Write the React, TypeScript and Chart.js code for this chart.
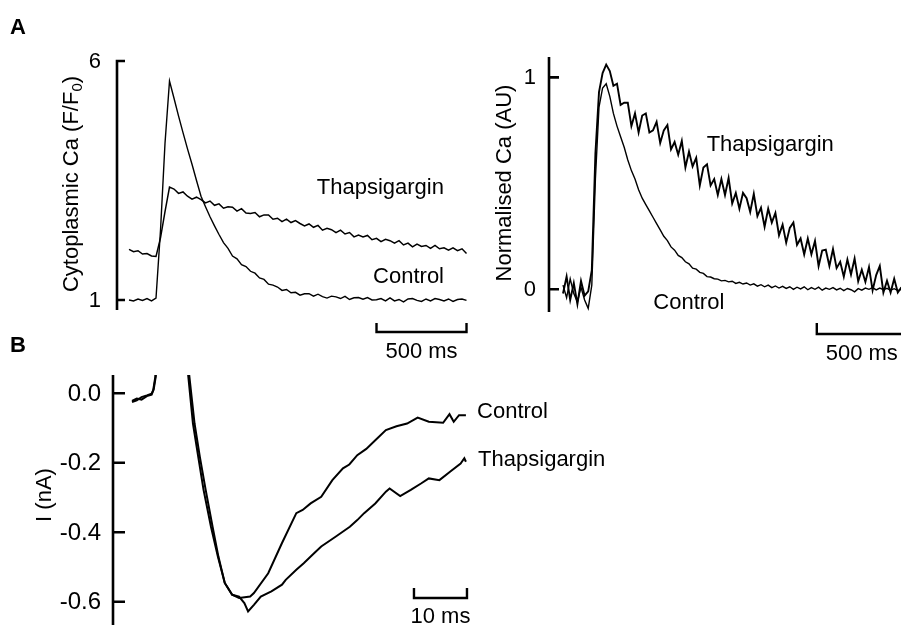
import React, { useEffect, useRef } from "react";
import { Chart, registerables } from "chart.js";

Chart.register(...registerables);

const FONT_FAMILY = '"Liberation Sans", Arial, Helvetica, sans-serif';

// ---------- Panel A (left): cytoplasmic Ca, F/F0 ----------
const A_TIME_MS = [
  0, 25, 50, 75, 100, 125, 150, 175, 200, 225, 250, 275, 300, 325, 350, 375, 400, 425, 450, 475,
  500, 525, 550, 575, 600, 625, 650, 675, 700, 725, 750, 775, 800, 825, 850, 875, 900, 925, 950, 975,
  1000, 1025, 1050, 1075, 1100, 1125, 1150, 1175, 1200, 1225, 1250, 1275, 1300, 1325, 1350, 1375,
  1400, 1425, 1450, 1475, 1500, 1525, 1550, 1575, 1600, 1625, 1650, 1675, 1700, 1725, 1750, 1775,
  1800, 1825, 1850, 1875,
];
const A_CONTROL_FF0 = [
  1.0, 0.98, 1.02, 0.99, 1.03, 0.98, 1.04, 2.46, 4.28, 5.58, 5.22, 4.85, 4.5, 4.16, 3.84, 3.5,
  3.17, 2.95, 2.74, 2.55, 2.37, 2.2, 2.08, 1.92, 1.86, 1.74, 1.7, 1.6, 1.56, 1.46, 1.43, 1.33,
  1.31, 1.27, 1.2, 1.22, 1.15, 1.16, 1.1, 1.13, 1.13, 1.08, 1.12, 1.07, 1.04, 1.08, 1.065, 1.03,
  1.075, 1.01, 1.045, 1.05, 1.015, 1.05, 1.0, 1.005, 1.03, 0.98, 1.045, 0.98, 1.01, 0.96, 1.02,
  1.03, 0.99, 0.97, 1.02, 0.98, 1.03, 1.01, 0.98, 1.02, 0.97, 1.01, 1.02, 0.99,
];
const A_THAPS_FF0 = [
  2.06, 2.01, 2.03, 1.96, 1.97, 1.92, 1.91, 2.3, 2.85, 3.36, 3.32, 3.23, 3.26, 3.17, 3.11, 3.15,
  3.1, 3.03, 3.07, 2.98, 3.01, 2.92, 2.95, 2.94, 2.86, 2.91, 2.82, 2.81, 2.83, 2.74, 2.78, 2.78,
  2.69, 2.71, 2.64, 2.69, 2.62, 2.66, 2.6, 2.55, 2.59, 2.52, 2.56, 2.46, 2.5, 2.47, 2.41, 2.46,
  2.38, 2.41, 2.32, 2.36, 2.32, 2.35, 2.26, 2.29, 2.22, 2.27, 2.24, 2.19, 2.24, 2.15, 2.19, 2.11,
  2.17, 2.12, 2.14, 2.08, 2.14, 2.07, 2.09, 2.04, 2.09, 2.03, 2.07, 1.97,
];
const A_Y_TICKS = [1, 6];
const A_Y_TICK_LABELS = ["1", "6"];

// ---------- Panel A (right): normalised Ca ----------
const N_TIME_MS = [
  0, 20, 40, 60, 80, 100, 120, 140, 160, 180, 200, 220, 240, 260, 280, 300, 320, 340, 360, 380,
  400, 420, 440, 460, 480, 500, 520, 540, 560, 580, 600, 620, 640, 660, 680, 700, 720, 740, 760, 780,
  800, 820, 840, 860, 880, 900, 920, 940, 960, 980, 1000, 1020, 1040, 1060, 1080, 1100, 1120, 1140,
  1160, 1180, 1200, 1220, 1240, 1260, 1280, 1300, 1320, 1340, 1360, 1380, 1400, 1420, 1440, 1460,
  1480, 1500, 1520, 1540, 1560, 1580, 1600, 1620, 1640, 1660, 1680, 1700, 1720, 1740, 1760, 1780,
  1800, 1820, 1840, 1860, 1880,
];
const N_CONTROL = [
  0.02, -0.04, 0.05, -0.02, -0.06, 0.01, -0.05, -0.09, 0.02, 0.52, 0.86, 0.95, 0.97, 0.91, 0.83,
  0.77, 0.72, 0.67, 0.61, 0.56, 0.52, 0.47, 0.43, 0.4, 0.37, 0.34, 0.31, 0.28, 0.25, 0.23, 0.2,
  0.185, 0.16, 0.15, 0.13, 0.12, 0.1, 0.095, 0.08, 0.075, 0.06, 0.058, 0.05, 0.048, 0.04, 0.042,
  0.035, 0.038, 0.028, 0.033, 0.025, 0.03, 0.02, 0.026, 0.015, 0.022, 0.012, 0.02, 0.008, 0.016,
  0.006, 0.014, 0.004, 0.012, 0.0, 0.01, 0.002, 0.012, -0.002, 0.008, 0.0, 0.01, -0.004, 0.006,
  0.0, 0.008, -0.003, 0.005, -0.006, 0.004, -0.002, -0.012, 0.003, -0.004, 0.006, 0.0, 0.008,
  -0.003, 0.006, -0.002, 0.005, -0.004, 0.003, -0.006, 0.0,
];
const N_THAPS = [
  -0.02, 0.06, -0.05, 0.03, -0.07, 0.04, -0.03, -0.01, 0.09, 0.64, 0.93, 1.02, 1.06, 1.03, 0.96,
  0.97, 0.87, 0.88, 0.88, 0.77, 0.83, 0.74, 0.82, 0.83, 0.74, 0.75, 0.79, 0.69, 0.75, 0.775, 0.66,
  0.695, 0.635, 0.7, 0.575, 0.65, 0.58, 0.62, 0.49, 0.575, 0.59, 0.49, 0.52, 0.445, 0.52, 0.445,
  0.525, 0.405, 0.455, 0.38, 0.455, 0.43, 0.365, 0.45, 0.345, 0.385, 0.295, 0.38, 0.315, 0.36,
  0.255, 0.305, 0.22, 0.29, 0.315, 0.21, 0.24, 0.165, 0.24, 0.165, 0.228, 0.11, 0.183, 0.187,
  0.11, 0.19, 0.1, 0.13, 0.06, 0.14, 0.07, 0.145, 0.038, 0.092, 0.035, 0.105, -0.005, 0.067, 0.11,
  -0.015, 0.04, -0.015, 0.05, -0.015, 0.01,
];
const N_Y_TICKS = [0, 1];
const N_Y_TICK_LABELS = ["0", "1"];

// ---------- Panel B: current, nA ----------
const B_CONTROL_TIME_MS = [
  0, 0.9, 1.8, 2.8, 3.7, 4.0, 4.4, 4.8, 9.8, 10.3, 10.6, 11.5, 12.5, 13.5, 14.9, 16.2, 17.5, 18.9,
  20.2, 22.3, 23.0, 25.7, 28.3, 31.0, 32.2, 33.7, 35.7, 37.8, 39.8, 41.0, 42.5, 44.2, 45.9, 47.9,
  49.9, 51.9, 53.9, 56.0, 58.7, 59.9, 60.7, 61.7, 63.0,
];
const B_CONTROL_NA = [
  -0.025, -0.02, -0.011, -0.006, -0.001, 0.009, 0.047, 0.4, 0.4, 0.2, 0.052, -0.087, -0.183,
  -0.278, -0.384, -0.47, -0.546, -0.58, -0.589, -0.585, -0.575, -0.518, -0.431, -0.345, -0.336,
  -0.317, -0.298, -0.25, -0.216, -0.205, -0.178, -0.16, -0.135, -0.106, -0.095, -0.087, -0.07,
  -0.082, -0.085, -0.06, -0.082, -0.063, -0.063,
];
const B_THAPS_TIME_MS = [
  0, 0.9, 1.8, 2.8, 3.7, 4.1, 4.5, 4.9, 9.9, 10.5, 10.8, 11.8, 12.8, 13.9, 15.2, 16.3, 17.5, 18.9,
  20.2, 21.2, 21.9, 23.0, 24.3, 26.3, 28.3, 29.0, 31.0, 32.4, 34.4, 35.7, 38.4, 41.1, 42.5, 43.8,
  45.9, 47.9, 48.6, 50.6, 52.6, 54.6, 56.0, 58.0, 60.0, 62.0, 62.7, 63.0,
];
const B_THAPS_NA = [
  -0.022, -0.015, -0.018, -0.008, -0.004, 0.012, 0.05, 0.4, 0.4, 0.2, 0.052, -0.087, -0.183,
  -0.278, -0.384, -0.47, -0.546, -0.58, -0.585, -0.604, -0.628, -0.609, -0.585, -0.57, -0.551,
  -0.537, -0.508, -0.489, -0.46, -0.441, -0.413, -0.384, -0.365, -0.345, -0.317, -0.283, -0.274,
  -0.296, -0.278, -0.259, -0.245, -0.25, -0.226, -0.202, -0.187, -0.197,
];
const B_Y_TICKS = [0, -0.2, -0.4, -0.6];
const B_Y_TICK_LABELS = ["0.0", "-0.2", "-0.4", "-0.6"];

type TitlePart = { t: string; sub?: boolean };
type Deco = {
  ticks: number[];
  tickLabels: string[];
  tickFont: number;
  tickLen: number;
  tickGap: number;
  title: { parts: TitlePart[]; cx: number; cy: number };
  labels: { text: string; x: number; y: number }[];
  bar: { from: number; to: number; y: number; cap: number; text: string; textY: number };
  letter?: { text: string; x: number; y: number };
};

function decoPlugin(d: Deco) {
  return {
    id: "deco",
    afterDatasetsDraw(chart: any) {
      const ctx = chart.ctx as CanvasRenderingContext2D;
      const area = chart.chartArea;
      const xs = chart.scales.x;
      const ys = chart.scales.y;
      ctx.save();
      ctx.strokeStyle = "#000";
      ctx.fillStyle = "#000";
      ctx.lineWidth = 2.6;
      ctx.lineCap = "butt";
      ctx.beginPath();
      ctx.moveTo(area.left, area.top);
      ctx.lineTo(area.left, area.bottom);
      d.ticks.forEach((v) => {
        const py = ys.getPixelForValue(v);
        ctx.moveTo(area.left - 1.3, py);
        ctx.lineTo(area.left + d.tickLen, py);
      });
      ctx.stroke();

      ctx.font = `${d.tickFont}px ${FONT_FAMILY}`;
      ctx.textAlign = "right";
      ctx.textBaseline = "middle";
      d.ticks.forEach((v, i) => {
        ctx.fillText(d.tickLabels[i], area.left - d.tickGap, ys.getPixelForValue(v) + 1);
      });

      // rotated axis title
      ctx.save();
      ctx.translate(d.title.cx, d.title.cy);
      ctx.rotate(-Math.PI / 2);
      const mainFont = `22px ${FONT_FAMILY}`;
      const subFont = `15px ${FONT_FAMILY}`;
      let total = 0;
      d.title.parts.forEach((p) => {
        ctx.font = p.sub ? subFont : mainFont;
        total += ctx.measureText(p.t).width;
      });
      let cx = -total / 2;
      ctx.textAlign = "left";
      ctx.textBaseline = "middle";
      d.title.parts.forEach((p) => {
        ctx.font = p.sub ? subFont : mainFont;
        ctx.fillText(p.t, cx, p.sub ? 6 : 0);
        cx += ctx.measureText(p.t).width;
      });
      ctx.restore();

      // trace labels
      ctx.font = `22px ${FONT_FAMILY}`;
      ctx.textAlign = "left";
      ctx.textBaseline = "middle";
      d.labels.forEach((l) => {
        ctx.fillText(l.text, xs.getPixelForValue(l.x), ys.getPixelForValue(l.y));
      });

      // scale bar
      const x0 = xs.getPixelForValue(d.bar.from);
      const x1 = xs.getPixelForValue(d.bar.to);
      ctx.lineWidth = 2.4;
      ctx.beginPath();
      ctx.moveTo(x0, d.bar.y - d.bar.cap);
      ctx.lineTo(x0, d.bar.y);
      ctx.lineTo(x1, d.bar.y);
      ctx.lineTo(x1, d.bar.y - d.bar.cap);
      ctx.stroke();
      ctx.textAlign = "center";
      ctx.textBaseline = "alphabetic";
      ctx.fillText(d.bar.text, (x0 + x1) / 2, d.bar.textY);

      if (d.letter) {
        ctx.font = `bold 22px ${FONT_FAMILY}`;
        ctx.textAlign = "left";
        ctx.fillText(d.letter.text, d.letter.x, d.letter.y);
      }
      ctx.restore();
    },
  };
}

function series(times: number[], values: number[], width: number) {
  return {
    data: times.map((t, i) => ({ x: t, y: values[i] })),
    borderColor: "#000",
    borderWidth: width,
    pointRadius: 0,
    tension: 0,
    fill: false,
  };
}

function makeConfig(
  datasets: any[],
  x: [number, number],
  y: [number, number],
  padding: { left: number; top: number; right: number; bottom: number },
  deco: Deco
): any {
  return {
    type: "line",
    data: { datasets },
    options: {
      animation: false,
      responsive: false,
      maintainAspectRatio: false,
      events: [],
      layout: { padding },
      scales: {
        x: { type: "linear", min: x[0], max: x[1], display: false },
        y: { type: "linear", min: y[0], max: y[1], display: false },
      },
      plugins: { legend: { display: false }, tooltip: { enabled: false }, title: { display: false } },
    },
    plugins: [decoPlugin(deco)],
  };
}

export default function App() {
  const refA = useRef<HTMLCanvasElement>(null);
  const refN = useRef<HTMLCanvasElement>(null);
  const refB = useRef<HTMLCanvasElement>(null);

  useEffect(() => {
    const charts: Chart[] = [];
    if (refA.current) {
      charts.push(
        new Chart(
          refA.current,
          makeConfig(
            [series(A_TIME_MS, A_CONTROL_FF0, 1.4), series(A_TIME_MS, A_THAPS_FF0, 1.5)],
            [-66.7, 1894.4],
            [0.79, 6.02],
            { left: 117, top: 60, right: 10, bottom: 60 },
            {
              ticks: A_Y_TICKS,
              tickLabels: A_Y_TICK_LABELS,
              tickFont: 22,
              tickLen: 8,
              tickGap: 16,
              title: { parts: [{ t: "Cytoplasmic Ca (F/F" }, { t: "0", sub: true }, { t: ")" }], cx: 72, cy: 184 },
              labels: [
                { text: "Thapsigargin", x: 1043, y: 3.34 },
                { text: "Control", x: 1356, y: 1.48 },
              ],
              bar: { from: 1375, to: 1875, y: 332, cap: 9, text: "500 ms", textY: 358 },
              letter: { text: "A", x: 10, y: 34 },
            }
          )
        )
      );
    }
    if (refN.current) {
      charts.push(
        new Chart(
          refN.current,
          makeConfig(
            [series(N_TIME_MS, N_CONTROL, 1.4), series(N_TIME_MS, N_THAPS, 1.9)],
            [-77.8, 1877.8],
            [-0.107, 1.096],
            { left: 69, top: 57, right: 0, bottom: 58 },
            {
              ticks: N_Y_TICKS,
              tickLabels: N_Y_TICK_LABELS,
              tickFont: 22,
              tickLen: 10,
              tickGap: 13,
              title: { parts: [{ t: "Normalised Ca (AU)" }], cx: 25, cy: 183 },
              labels: [
                { text: "Thapsigargin", x: 798, y: 0.68 },
                { text: "Control", x: 502, y: -0.066 },
              ],
              bar: { from: 1410, to: 1910, y: 334, cap: 11, text: "500 ms", textY: 360 },
            }
          )
        )
      );
    }
    if (refB.current) {
      charts.push(
        new Chart(
          refB.current,
          makeConfig(
            [series(B_CONTROL_TIME_MS, B_CONTROL_NA, 2), series(B_THAPS_TIME_MS, B_THAPS_NA, 2)],
            [-3.585, 63.77],
            [-0.667, 0.0527],
            { left: 113, top: 40, right: 431, bottom: 0 },
            {
              ticks: B_Y_TICKS,
              tickLabels: B_Y_TICK_LABELS,
              tickFont: 24,
              tickLen: 12,
              tickGap: 12,
              title: { parts: [{ t: "I (nA)" }], cx: 45, cy: 160 },
              labels: [
                { text: "Control", x: 65.1, y: -0.054 },
                { text: "Thapsigargin", x: 65.3, y: -0.192 },
              ],
              bar: { from: 53.2, to: 63.2, y: 263, cap: 10, text: "10 ms", textY: 288 },
              letter: { text: "B", x: 10, y: 17 },
            }
          )
        )
      );
    }
    return () => charts.forEach((c) => c.destroy());
  }, []);

  return (
    <div style={{ position: "absolute", left: 0, top: 0, width: 901, height: 625, background: "#fff", overflow: "hidden" }}>
      <canvas ref={refA} width={480} height={370} style={{ position: "absolute", left: 0, top: 0, width: 480, height: 370 }} />
      <canvas ref={refN} width={421} height={370} style={{ position: "absolute", left: 480, top: 0, width: 421, height: 370 }} />
      <canvas ref={refB} width={901} height={290} style={{ position: "absolute", left: 0, top: 335, width: 901, height: 290 }} />
    </div>
  );
}
